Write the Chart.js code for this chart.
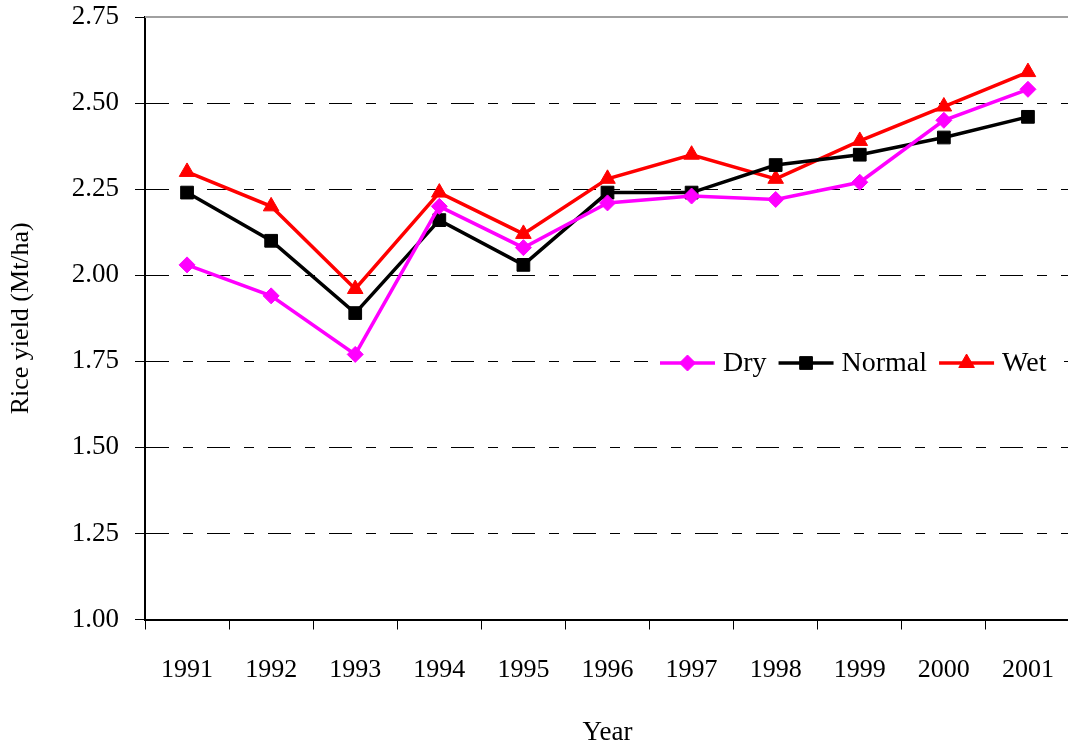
<!DOCTYPE html>
<html>
<head>
<meta charset="utf-8">
<script src="https://cdn.jsdelivr.net/npm/chart.js@4.4.1/dist/chart.umd.min.js"></script>
<style>
  html, body { margin: 0; padding: 0; background: #fff; overflow: hidden; }
  #wrap { width: 1080px; height: 746px; }
</style>
</head>
<body>
<div id="wrap"><canvas id="myChart" width="1080" height="746"></canvas></div>
<script>
var years = ['1991', '1992', '1993', '1994', '1995', '1996', '1997', '1998', '1999', '2000', '2001'];
var dry    = [2.03, 1.94, 1.77, 2.20, 2.08, 2.21, 2.23, 2.22, 2.27, 2.45, 2.54];
var normal = [2.24, 2.10, 1.89, 2.16, 2.03, 2.24, 2.24, 2.32, 2.35, 2.40, 2.46];
var wet    = [2.30, 2.20, 1.96, 2.24, 2.12, 2.28, 2.35, 2.28, 2.39, 2.49, 2.59];
var yTicks = [1.00, 1.25, 1.50, 1.75, 2.00, 2.25, 2.50, 2.75];

var serif = "'Liberation Serif', 'Times New Roman', serif";

// gray top frame line of the plot area
var topFrame = {
    id: 'topFrame',
    beforeDatasetsDraw: function(chart) {
        var a = chart.chartArea, ctx = chart.ctx;
        ctx.save();
        ctx.strokeStyle = '#a0a0a0';
        ctx.lineWidth = 2;
        ctx.beginPath();
        ctx.moveTo(a.left, a.top);
        ctx.lineTo(a.right, a.top);
        ctx.stroke();
        ctx.restore();
    }
};

// legend inside the plot: line with marker, then label
var innerLegend = {
    id: 'innerLegend',
    afterDatasetsDraw: function(chart) {
        var ctx = chart.ctx;
        var y = 363;
        ctx.save();
        ctx.fillStyle = '#fff';
        ctx.fillRect(648, 342, 416, 44);
        ctx.font = '28px ' + serif;
        ctx.textBaseline = 'middle';
        var x = 660;
        chart.data.datasets.forEach(function(ds) {
            ctx.strokeStyle = ds.borderColor;
            ctx.lineWidth = 3.5;
            ctx.setLineDash([]);
            ctx.beginPath();
            ctx.moveTo(x, y);
            ctx.lineTo(x + 55, y);
            ctx.stroke();
            ctx.fillStyle = ds.borderColor;
            ctx.lineWidth = 1;
            Chart.helpers.drawPoint(ctx, {pointStyle: ds.pointStyle, radius: ds.pointRadius, borderWidth: 1, rotation: 0}, x + 27.5, y);
            ctx.fillStyle = '#000';
            ctx.fillText(ds.label, x + 63, y + 1);
            x = x + 63 + ctx.measureText(ds.label).width + 12;
        });
        ctx.restore();
    }
};

new Chart('myChart', {
    type: 'line',
    data: {
        labels: years,
        datasets: [{
            label: 'Dry',
            data: dry,
            borderColor: '#ff00ff',
            backgroundColor: '#ff00ff',
            pointStyle: 'rectRot',
            pointRadius: 8,
            pointBorderWidth: 1,
            borderWidth: 3.5,
            tension: 0,
            fill: false
        }, {
            label: 'Normal',
            data: normal,
            borderColor: '#000000',
            backgroundColor: '#000000',
            pointStyle: 'rect',
            pointRadius: 9,
            pointBorderWidth: 1,
            borderWidth: 3.5,
            tension: 0,
            fill: false
        }, {
            label: 'Wet',
            data: wet,
            borderColor: '#ff0000',
            backgroundColor: '#ff0000',
            pointStyle: 'triangle',
            pointRadius: 9,
            pointBorderWidth: 1,
            borderWidth: 3.5,
            tension: 0,
            fill: false
        }]
    },
    options: {
        responsive: false,
        animation: false,
        layout: { padding: { left: 0, top: 17, right: 4, bottom: 0 } },
        plugins: {
            legend: { display: false },
            tooltip: { enabled: false }
        },
        scales: {
            x: {
                offset: true,
                afterFit: function(scale) {
                    scale.height = 126.5;
                    scale.paddingLeft = 0;
                    scale.paddingRight = 0;
                },
                grid: {
                    offset: true,
                    drawOnChartArea: false,
                    drawTicks: true,
                    tickLength: 10,
                    tickColor: '#000',
                    tickWidth: 1
                },
                border: { color: '#000', width: 2 },
                ticks: {
                    color: '#000',
                    font: { family: serif, size: 26 },
                    padding: 25,
                    maxRotation: 0
                },
                title: {
                    display: true,
                    text: 'Year',
                    color: '#000',
                    font: { family: serif, size: 27, lineHeight: 1 },
                    padding: 0
                }
            },
            y: {
                min: 1,
                max: 2.75,
                afterFit: function(scale) {
                    scale.width = 145;
                    scale.paddingTop = 0;
                    scale.paddingBottom = 0;
                },
                afterBuildTicks: function(scale) {
                    scale.ticks = yTicks.map(function(v) { return { value: v }; });
                },
                grid: {
                    color: function(c) {
                        if (c.tick && (c.tick.value === 2.75 || c.tick.value === 1)) return 'rgba(0,0,0,0)';
                        return '#000';
                    },
                    lineWidth: 1,
                    tickLength: 10,
                    tickColor: '#000',
                    tickWidth: 1,
                    tickBorderDash: []
                },
                border: { color: '#000', width: 2, dash: [23, 14, 10, 14] },
                ticks: {
                    color: '#000',
                    font: { family: serif, size: 27 },
                    padding: 16,
                    callback: function(v) { return Number(v).toFixed(2); }
                },
                title: {
                    display: true,
                    text: 'Rice yield (Mt/ha)',
                    color: '#000',
                    font: { family: serif, size: 26, lineHeight: 1.2 },
                    padding: { top: 6, bottom: 0 }
                }
            }
        }
    },
    plugins: [topFrame, innerLegend]
});
</script>
</body>
</html>
